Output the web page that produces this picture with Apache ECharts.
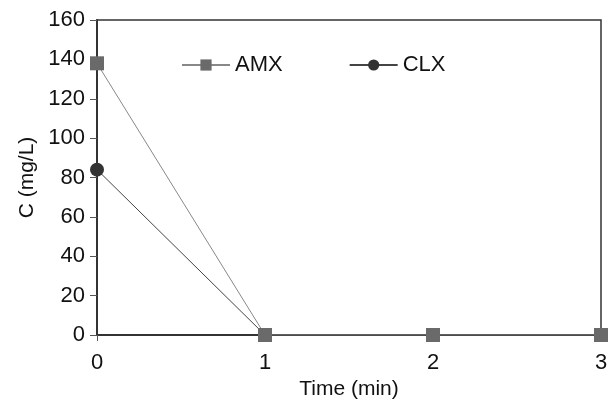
<!DOCTYPE html>
<html>
<head>
<meta charset="utf-8">
<script src="https://cdn.jsdelivr.net/npm/echarts@6/dist/echarts.min.js"></script>
<style>
  html, body { margin: 0; padding: 0; background: #fff; }
  #chart { width: 609px; height: 404px; }
</style>
</head>
<body>
<div id="chart"></div>
<script>
// data
var timeMin = [0, 1, 2, 3];
var amx = [138, 0, 0, 0];
var clx = [84, 0, 0, 0];

var myChart = echarts.init(document.getElementById("chart"));
var font = "Liberation Sans, Arial, sans-serif";

myChart.setOption({
  animation: false,
  grid: {
    left: 97, right: 8, top: 20, bottom: 69,
    outerBoundsMode: "none",
    show: true, borderColor: "#333", borderWidth: 1.5
  },
  legend: {
    top: 49,
    left: 176,
    itemGap: 66,
    itemWidth: 48,
    itemHeight: 14,
    textStyle: { fontFamily: font, fontSize: 22, color: "#111" },
    data: ["AMX", "CLX"]
  },
  xAxis: {
    type: "value",
    min: 0,
    max: 3,
    interval: 1,
    name: "Time (min)",
    nameLocation: "middle",
    nameGap: 44,
    nameTextStyle: { fontFamily: font, fontSize: 21, color: "#111" },
    axisLine: { lineStyle: { color: "#333", width: 2 } },
    axisTick: { length: 6, lineStyle: { color: "#555" } },
    axisLabel: { fontFamily: font, fontSize: 22, color: "#111", margin: 17 },
    splitLine: { show: false }
  },
  yAxis: {
    type: "value",
    min: 0,
    max: 160,
    interval: 20,
    name: "C (mg/L)",
    nameLocation: "middle",
    nameGap: 57,
    nameTextStyle: { fontFamily: font, fontSize: 21, color: "#111" },
    axisLine: { show: true, lineStyle: { color: "#333", width: 2 } },
    axisTick: { show: true, length: 7, lineStyle: { color: "#555" } },
    axisLabel: { fontFamily: font, fontSize: 22, color: "#111", margin: 12 },
    splitLine: { show: false }
  },
  series: [
    {
      name: "CLX",
      type: "line",
      data: timeMin.map(function (t, i) { return [t, clx[i]]; }),
      symbol: "circle",
      symbolSize: 14,
      itemStyle: { color: "#333" },
      lineStyle: { color: "#444", width: 1 }
    },
    {
      name: "AMX",
      type: "line",
      data: timeMin.map(function (t, i) { return [t, amx[i]]; }),
      symbol: "rect",
      symbolSize: 14,
      itemStyle: { color: "#6a6a6a" },
      lineStyle: { color: "#888", width: 1 }
    }
  ]
});
</script>
</body>
</html>
